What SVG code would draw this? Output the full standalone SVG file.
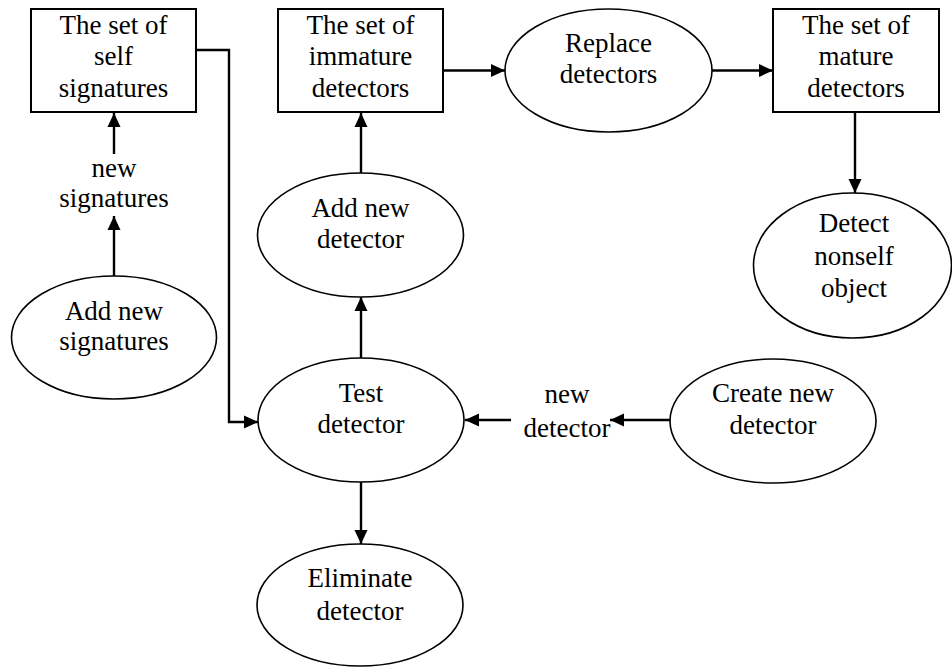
<svg xmlns="http://www.w3.org/2000/svg" width="952" height="668" viewBox="0 0 952 668">
<style>
  .box{fill:#fff;stroke:#000;stroke-width:2}
  .ell{fill:#fff;stroke:#000;stroke-width:1.6}
  .t{font-family:"Liberation Serif","Times New Roman",serif;font-size:27px;fill:#000;text-anchor:middle}
  .c{fill:none;stroke:#000;stroke-width:2.4}
</style>
<defs>
  <marker id="ah" markerUnits="userSpaceOnUse" markerWidth="14" markerHeight="14" viewBox="0 0 14 14" refX="14" refY="7" orient="auto">
    <path d="M0,0.5 L14,7 L0,13.5 Z" fill="#000"/>
  </marker>
</defs>
<rect width="952" height="668" fill="#fff"/>
<g id="connectors">
  <line class="c" x1="114" y1="154" x2="114" y2="113" marker-end="url(#ah)"/>
  <line class="c" x1="114" y1="276" x2="114" y2="216" marker-end="url(#ah)"/>
  <polyline class="c" points="196,50 229,50 229,422 258,422" marker-end="url(#ah)"/>
  <line class="c" x1="443" y1="70.5" x2="505" y2="70.5" marker-end="url(#ah)"/>
  <line class="c" x1="712" y1="70.5" x2="773" y2="70.5" marker-end="url(#ah)"/>
  <line class="c" x1="855" y1="112" x2="855" y2="193" marker-end="url(#ah)"/>
  <line class="c" x1="361" y1="173" x2="361" y2="113" marker-end="url(#ah)"/>
  <line class="c" x1="361" y1="358" x2="361" y2="297" marker-end="url(#ah)"/>
  <line class="c" x1="361" y1="482" x2="361" y2="544" marker-end="url(#ah)"/>
  <line class="c" x1="670" y1="420" x2="610" y2="420" marker-end="url(#ah)"/>
  <line class="c" x1="511" y1="420" x2="465" y2="420" marker-end="url(#ah)"/>
  <text class="t" x="114" y="177">new</text>
  <text class="t" x="114" y="207">signatures</text>
  <text class="t" x="567" y="403">new</text>
  <text class="t" x="567" y="437">detector</text>
</g>
<g id="self-signatures">
  <rect class="box" x="31" y="9" width="165" height="103"/>
  <text class="t" x="113.5" y="34">The set of</text>
  <text class="t" x="113.5" y="65">self</text>
  <text class="t" x="113.5" y="97">signatures</text>
</g>
<g id="immature-detectors">
  <rect class="box" x="278" y="9" width="165" height="103"/>
  <text class="t" x="360.5" y="34">The set of</text>
  <text class="t" x="360.5" y="65">immature</text>
  <text class="t" x="360.5" y="97">detectors</text>
</g>
<g id="replace-detectors">
  <ellipse class="ell" cx="608.5" cy="70.5" rx="103.5" ry="61.5"/>
  <text class="t" x="608.5" y="52">Replace</text>
  <text class="t" x="608.5" y="83">detectors</text>
</g>
<g id="mature-detectors">
  <rect class="box" x="773" y="9" width="166" height="103"/>
  <text class="t" x="856" y="34">The set of</text>
  <text class="t" x="856" y="65">mature</text>
  <text class="t" x="856" y="97">detectors</text>
</g>
<g id="detect-nonself">
  <ellipse class="ell" cx="852.5" cy="265.5" rx="99" ry="72.5"/>
  <text class="t" x="854" y="232">Detect</text>
  <text class="t" x="854" y="265">nonself</text>
  <text class="t" x="854" y="297">object</text>
</g>
<g id="add-new-detector">
  <ellipse class="ell" cx="360.5" cy="235" rx="103" ry="62"/>
  <text class="t" x="360.5" y="217">Add new</text>
  <text class="t" x="360.5" y="248">detector</text>
</g>
<g id="add-new-signatures">
  <ellipse class="ell" cx="114" cy="337.5" rx="102.5" ry="61.5"/>
  <text class="t" x="114" y="320">Add new</text>
  <text class="t" x="114" y="350">signatures</text>
</g>
<g id="test-detector">
  <ellipse class="ell" cx="361" cy="420" rx="103" ry="62"/>
  <text class="t" x="361" y="402">Test</text>
  <text class="t" x="361" y="433">detector</text>
</g>
<g id="create-new-detector">
  <ellipse class="ell" cx="773" cy="421" rx="103" ry="62"/>
  <text class="t" x="773" y="402">Create new</text>
  <text class="t" x="773" y="434">detector</text>
</g>
<g id="eliminate-detector">
  <ellipse class="ell" cx="360" cy="605" rx="103" ry="61"/>
  <text class="t" x="360" y="587">Eliminate</text>
  <text class="t" x="360" y="620">detector</text>
</g>
</svg>
